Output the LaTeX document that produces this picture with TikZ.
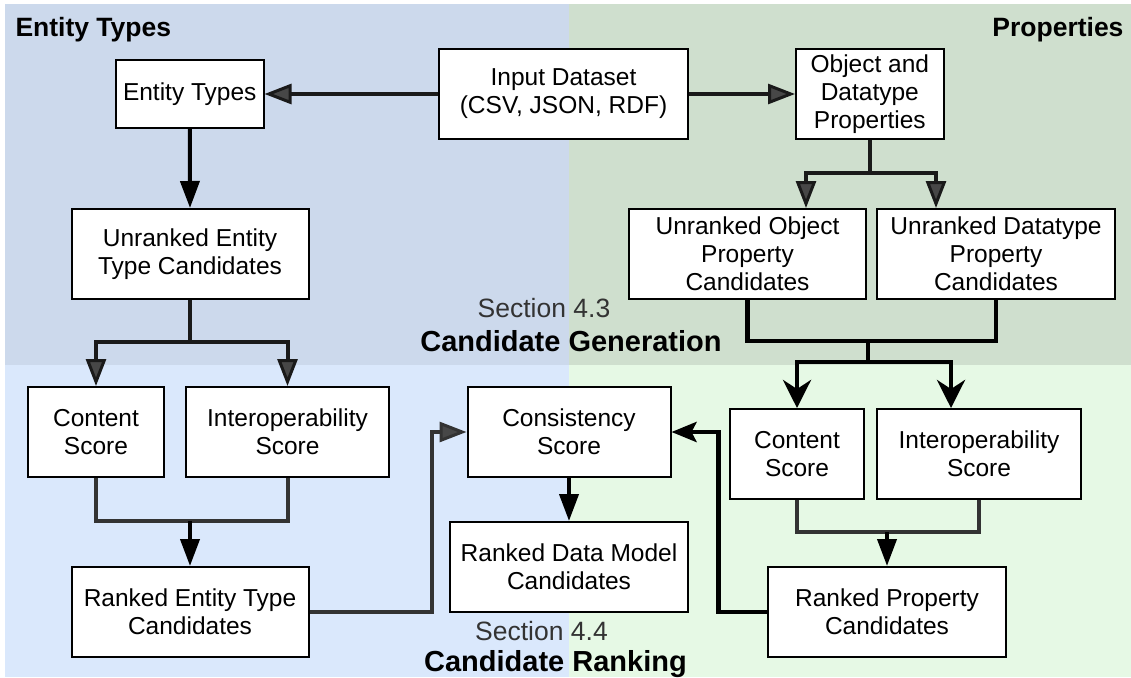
\documentclass[tikz,border=0pt]{standalone}
\usepackage{fontspec}
\setmainfont{Liberation Sans}
\usetikzlibrary{arrows.meta,calc}

\definecolor{bgTL}{HTML}{CCD9EC}
\definecolor{bgTR}{HTML}{CFDFCE}
\definecolor{bgBL}{HTML}{DAE8FC}
\definecolor{bgBR}{HTML}{E6F9E5}
\definecolor{ink}{HTML}{1A1A1A}
\definecolor{wire}{HTML}{333333}

\begin{document}
\begin{tikzpicture}[x=1pt,y=-1pt,
  box/.style={draw=black, fill=white, line width=2pt, align=center,
    font=\fontsize{24.5}{27.8}\selectfont, inner sep=0pt, minimum height=90pt},
  link/.style={line width=4pt, draw=ink},
  heavy/.style={line width=4.6pt, draw=black},
  hollowtip/.style={-{Triangle[length=27pt,width=20pt,line width=3pt,fill=black!72]}},
  solidtip/.style={-{Triangle[length=27pt,width=19pt]}},
  notchtip/.style={-{Stealth[length=28pt,width=28pt,inset=9pt]}},
  smallnotch/.style={-{Stealth[length=25pt,width=20pt,inset=5pt]}},
  heading/.style={font=\fontsize{26.5}{30}\selectfont\bfseries},
  secnum/.style={text=wire, font=\fontsize{26.5}{30}\selectfont},
  sectitle/.style={font=\fontsize{29}{33}\selectfont\bfseries}
]
\useasboundingbox (0,0) rectangle (1131,677);
\fill[white] (0,0) rectangle (1131,677);

% four background regions
\fill[bgTL] (5,4) rectangle (569,365);
\fill[bgTR] (569,4) rectangle (1131,365);
\fill[bgBL] (5,365) rectangle (569,677);
\fill[bgBR] (569,365) rectangle (1131,677);

% region headings
\node[heading, anchor=base west] (hEnt) at (12,37) {Entity Types};
\node[heading, anchor=base east] (hProp) at (1127,37) {Properties};

% section labels
\node[secnum, anchor=base] (sec3) at (544,317) {Section 4.3};
\node[sectitle, anchor=base] (gen) at (571,351) {Candidate Generation};
\node[secnum, anchor=base] (sec4) at (541.5,640) {Section 4.4};
\node[sectitle, anchor=base] (rank) at (555.5,671) {Candidate Ranking};

% boxes
\node[box, minimum width=147.5pt, minimum height=68pt] (et) at (189.75,94) {Entity Types};
\node[box, minimum width=249pt] (in) at (563.5,94) {Input Dataset\\(CSV, JSON, RDF)};
\node[box, minimum width=147.6pt] (op) at (869.8,94) {Object and\\Datatype\\Properties};
\node[box, minimum width=237pt] (uet) at (190,254) {Unranked Entity\\Type Candidates};
\node[box, minimum width=237pt] (uop) at (747.5,254) {Unranked Object\\Property\\Candidates};
\node[box, minimum width=238.5pt] (udp) at (996,254) {Unranked Datatype\\Property\\Candidates};
\node[box, minimum width=136pt] (csl) at (96,432) {Content\\Score};
\node[box, minimum width=203pt] (isl) at (287.5,432) {Interoperability\\Score};
\node[box, minimum width=203pt] (cons) at (569,432) {Consistency\\Score};
\node[box, minimum width=237.5pt] (rdm) at (569,567) {Ranked Data Model\\Candidates};
\node[box, minimum width=237pt] (ret) at (190,612) {Ranked Entity Type\\Candidates};
\node[box, minimum width=134pt] (csr) at (797,454) {Content\\Score};
\node[box, minimum width=204pt] (isr) at (979,454) {Interoperability\\Score};
\node[box, minimum width=238pt] (rpc) at (887,612) {Ranked Property\\Candidates};

% dataset feeds both branches
\draw[link, hollowtip] (in.west) -- (et.east);
\draw[link, hollowtip] (in.east) -- (op.west);
\draw[heavy, line width=4pt, solidtip] (et.south) -- (uet.north);

% property candidate split
\coordinate (opj) at (869.8,173);
\draw[link] (op.south) -- (opj);
\draw[link, hollowtip] (opj) -| ([xshift=58.5pt]uop.north);
\draw[link, hollowtip] (opj) -| ([xshift=-60pt]udp.north);

% entity type scoring split
\coordinate (uj) at (190,342);
\draw[link] (uet.south) -- (uj);
\draw[link, hollowtip] (uj) -| (csl.north);
\draw[link, hollowtip] (uj) -| (isl.north);

% entity type scores merge
\coordinate (lj) at (190,521);
\draw[link, draw=wire] (csl.south) |- (lj);
\draw[link, draw=wire] (isl.south) |- (lj);
\draw[heavy, line width=4pt, solidtip] (lj) -- (ret.north);

% ranked entity types to consistency
\draw[link, draw=wire, hollowtip] (ret.east) -| ($(cons.west)+(-35,0)$) -- (cons.west);
\draw[heavy, line width=4pt, solidtip] (cons.south) -- (rdm.north);

% property candidates into scoring
\coordinate (pj) at (868,341);
\coordinate (pk) at (868,362);
\draw[heavy] (uop.south) |- (pj);
\draw[heavy] (udp.south) |- (pj);
\draw[heavy] (pj) -- (pk);
\draw[heavy, notchtip] (pk) -| (csr.north);
\draw[heavy, notchtip] (pk) -| ([xshift=-28pt]isr.north);

% property scores merge
\coordinate (rj) at (887,532);
\draw[link, draw=wire] (csr.south) |- (rj);
\draw[link, draw=wire] (isr.south) |- (rj);
\draw[heavy, line width=4pt, solidtip] (rj) -- (rpc.north);

% ranked properties to consistency
\draw[heavy, smallnotch] (rpc.west) -| ($(cons.east)+(47,0)$) -- (cons.east);
\end{tikzpicture}
\end{document}
